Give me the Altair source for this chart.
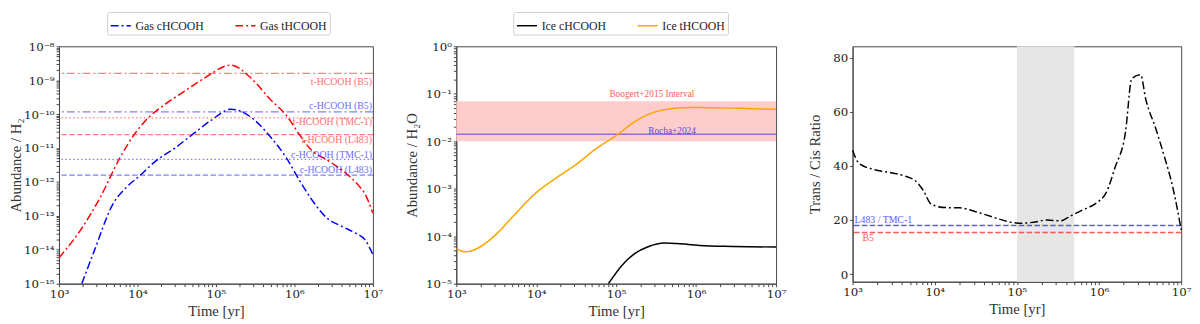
import altair as alt
import pandas as pd

# ---------------- Panel 1: gas-phase abundances ----------------
gas_t_time = [1.0e3, 1.88e3, 3.35e3, 5.96e3, 9.6e3, 1.28e4, 2.28e4, 4.06e4, 7.2e4, 1.55e5,
              2.75e5, 4.9e5, 7.9e5, 1.17e6, 1.55e6, 2.75e6, 4.47e6, 6.6e6, 7.9e6, 1.0e7]
gas_t_abund = [5.8e-15, 3.8e-14, 3.5e-13, 5.1e-12, 3.0e-11, 6.6e-11, 2.0e-10, 4.9e-10, 1.17e-9, 2.8e-9,
               1.2e-9, 2.75e-10, 9.1e-11, 2.4e-11, 1.0e-11, 4.1e-12, 1.86e-12, 7.8e-13, 4.5e-13, 1.2e-13]
gas_c_time = [1.95e3, 2.75e3, 4.9e3, 7.2e3, 1.06e4, 1.7e4, 3.0e4, 4.9e4, 8.7e4, 1.55e5,
              2.75e5, 4.9e5, 7.9e5, 1.17e6, 1.7e6, 2.5e6, 4.1e6, 6.0e6, 7.9e6, 1.0e7]
gas_c_abund = [1.0e-15, 8.1e-15, 2.3e-13, 6.9e-13, 1.5e-12, 4.1e-12, 1.0e-11, 2.4e-11, 6.6e-11, 1.4e-10,
               8.3e-11, 2.2e-11, 5.1e-12, 1.07e-12, 2.8e-13, 9.3e-14, 4.8e-14, 3.1e-14, 2.0e-14, 7.2e-15]

obs_labels = ["t-HCOOH (B5)", "c-HCOOH (B5)", "t-HCOOH (TMC-1)",
              "t-HCOOH (L483)", "c-HCOOH (TMC-1)", "c-HCOOH (L483)"]
obs_values = [1.6e-9, 1.17e-10, 7.8e-11, 2.5e-11, 4.6e-12, 1.6e-12]

# ---------------- Panel 2: ice abundances ----------------
ice_t_time = [1.0e3, 1.15e3, 1.34e3, 1.6e3, 2.0e3, 3.2e3, 5.2e3, 1.0e4, 1.8e4, 3.2e4, 5.5e4,
              1.07e5, 1.6e5, 2.2e5, 3.0e5, 4.5e5, 6.5e5, 1.0e6, 2.0e6, 5.0e6, 1.0e7]
ice_t_abund = [5.5e-5, 4.9e-5, 4.7e-5, 5.0e-5, 6.0e-5, 1.12e-4, 2.7e-4, 8.3e-4, 1.72e-3, 3.3e-3, 6.8e-3,
               1.43e-2, 2.4e-2, 3.3e-2, 4.1e-2, 4.8e-2, 5.1e-2, 5.15e-2, 5.05e-2, 4.85e-2, 4.7e-2]
ice_c_time = [8.0e4, 1.17e5, 1.7e5, 2.5e5, 4.0e5, 5.8e5, 1.1e6, 2.9e6, 1.0e7]
ice_c_abund = [1.0e-5, 2.4e-5, 4.3e-5, 6.0e-5, 7.2e-5, 7.0e-5, 6.4e-5, 6.1e-5, 5.9e-5]

boogert_low = [0.01]
boogert_high = [0.07]
rocha_value = [0.014]

# ---------------- Panel 3: trans / cis ratio ----------------
ratio_time = [1.0e3, 1.2e3, 1.8e3, 2.9e3, 4.5e3, 5.8e3, 7.2e3, 9.1e3, 1.35e4, 2.0e4, 3.2e4, 5.0e4,
              7.8e4, 1.1e5, 1.6e5, 2.3e5, 3.4e5, 4.5e5, 6.5e5, 9.4e5, 1.23e6, 1.56e6, 2.1e6,
              2.5e6, 3.2e6, 3.7e6, 4.9e6, 6.3e6, 7.9e6, 1.0e7]
ratio_value = [45.7, 40.9, 38.7, 37.5, 36.1, 34.5, 31.1, 25.8, 24.6, 24.5, 23.0, 21.2,
               19.4, 18.8, 19.2, 20.0, 19.7, 21.5, 23.9, 26.4, 30.3, 39.3, 52.6,
               72.2, 73.7, 64.7, 53.8, 43.0, 32.1, 16.4]
band_start = [1e5]
band_end = [5e5]
ratio_obs_labels = ["L483 / TMC-1", "B5"]
ratio_obs_values = [18.0, 15.4]

# ---------------- styling ----------------
SERIF = "Liberation Serif"
TICKFONT = "DejaVu Serif"
DASHDOT = [8, 3, 2, 3]
DASHED = [5.5, 2.5]
DOTTED = [1.5, 2.5]

major = [1e3, 1e4, 1e5, 1e6, 1e7]
x_ticks = major + [m * 10 ** e for e in range(3, 7) for m in range(2, 10)]
y1_ticks = [10.0 ** e for e in range(-15, -7)] + [m * 10.0 ** e for e in range(-15, -8) for m in range(2, 10)]
y2_ticks = [10.0 ** e for e in range(-5, 1)] + [m * 10.0 ** e for e in range(-5, 0) for m in range(2, 10)]

E = "round(log(datum.value)/LN10)"
A = "abs(round(log(datum.value)/LN10))"
SUP = ("abs(log(datum.value)/LN10 - {e}) < 0.001 ? '10' + ({e} < 0 ? '⁻' : '') + "
       "({a} >= 10 ? '¹' : '') + "
       "substring('⁰¹²³⁴⁵⁶⁷⁸⁹', {a} % 10, {a} % 10 + 1) : ''").format(e=E, a=A)

def log_axis(values, title_pad=None):
    kw = dict(values=values, labelExpr=SUP, tickSize=3, labelFlush=False, labelOverlap=False,
              labelFont=TICKFONT, labelFontSize=12)
    if title_pad is not None:
        kw["titlePadding"] = title_pad
    return alt.Axis(**kw)

xs = alt.Scale(type="log", domain=[1e3, 1e7], nice=False)
xax = log_axis(x_ticks, 4)
XT = "Time [yr]"

def X(field=None, datum=None):
    if datum is not None:
        return alt.XDatum(datum, type="quantitative", scale=xs, axis=xax, title=XT)
    return alt.X(field, type="quantitative", scale=xs, axis=xax, title=XT)

W1, W2, W3, H = 320, 326, 335, 242

# ===== panel 1 =====
y1s = alt.Scale(type="log", domain=[1e-15, 1e-8], nice=False)
y1ax = log_axis(y1_ticks, 0)
Y1T = "Abundance / H₂"

def Y1(field=None, datum=None):
    if datum is not None:
        return alt.YDatum(datum, type="quantitative", scale=y1s, axis=y1ax, title=Y1T)
    return alt.Y(field, type="quantitative", scale=y1s, axis=y1ax, title=Y1T)

gas_df = pd.concat([
    pd.DataFrame({"time": gas_c_time, "abund": gas_c_abund, "species": "Gas cHCOOH"}),
    pd.DataFrame({"time": gas_t_time, "abund": gas_t_abund, "species": "Gas tHCOOH"}),
])

legend_common = dict(title=None, orient="none", direction="horizontal", symbolType="stroke",
                     symbolStrokeWidth=1.5, symbolSize=420, labelFont=SERIF, labelFontSize=12,
                     labelColor="#222", fillColor="white", strokeColor="#d0d0d0", padding=3,
                     cornerRadius=2, columnPadding=28, labelLimit=300, legendY=-35)

gas_lines = alt.Chart(gas_df).mark_line(strokeWidth=1.5, strokeDash=DASHDOT, interpolate="monotone",
                                        clip=True).encode(
    x=X("time"), y=Y1("abund"),
    color=alt.Color("species:N",
                    scale=alt.Scale(domain=["Gas cHCOOH", "Gas tHCOOH"], range=["#0000ff", "#ff0000"]),
                    legend=alt.Legend(legendX=49, symbolDash=DASHDOT, **legend_common)),
)

obs_df = pd.DataFrame({"label": obs_labels, "value": obs_values})
obs_color = ["#ff0000", "#0000ff", "#ff0000", "#ff0000", "#0000ff", "#0000ff"]
obs_dash = [DASHDOT, DASHDOT, DOTTED, DASHED, DOTTED, DASHED]
obs_dy = [9, -6, 4, 6, -4, -5]

p1_layers = []
for i in range(len(obs_labels)):
    sub = obs_df.iloc[[i]]
    p1_layers.append(alt.Chart(sub).mark_rule(color=obs_color[i], strokeDash=obs_dash[i], strokeWidth=1.3,
                                              opacity=0.5).encode(y=Y1("value")))
p1_layers.append(gas_lines)
for i in range(len(obs_labels)):
    sub = obs_df.iloc[[i]]
    p1_layers.append(alt.Chart(sub).mark_text(align="right", baseline="middle", dx=-1, dy=obs_dy[i],
                                              font=SERIF, fontSize=10, color=obs_color[i],
                                              opacity=0.6).encode(
        x=X(datum=1e7), y=Y1("value"), text="label:N"))

panel1 = alt.layer(*p1_layers).properties(width=W1, height=H)

# ===== panel 2 =====
y2s = alt.Scale(type="log", domain=[1e-5, 1], nice=False)
y2ax = log_axis(y2_ticks, 6)
Y2T = "Abundance / H₂O"

def Y2(field=None, datum=None):
    if datum is not None:
        return alt.YDatum(datum, type="quantitative", scale=y2s, axis=y2ax, title=Y2T)
    return alt.Y(field, type="quantitative", scale=y2s, axis=y2ax, title=Y2T)

ice_df = pd.concat([
    pd.DataFrame({"time": ice_c_time, "abund": ice_c_abund, "species": "Ice cHCOOH"}),
    pd.DataFrame({"time": ice_t_time, "abund": ice_t_abund, "species": "Ice tHCOOH"}),
])
ref_df = pd.DataFrame({"low": boogert_low, "high": boogert_high, "rocha": rocha_value})

band = alt.Chart(ref_df).mark_rect(color="#ffcccc").encode(
    y=Y2("low"), y2="high")
rocha = alt.Chart(ref_df).mark_rule(color="#8a70e0", strokeWidth=1.5).encode(y=Y2("rocha"))
ice_lines = alt.Chart(ice_df).mark_line(strokeWidth=1.5, interpolate="monotone", clip=True).encode(
    x=X("time"), y=Y2("abund"),
    color=alt.Color("species:N",
                    scale=alt.Scale(domain=["Ice cHCOOH", "Ice tHCOOH"], range=["#000000", "#ffa500"]),
                    legend=alt.Legend(legendX=58, **legend_common)),
)
boog_txt = alt.Chart(ref_df).mark_text(align="center", baseline="alphabetic", dy=-4, font=SERIF,
                                       fontSize=9.5, color="#ff3030", opacity=0.8).encode(
    x=X(datum=2.8e5), y=Y2("high"), text=alt.value("Boogert+2015 Interval"))
rocha_txt = alt.Chart(ref_df).mark_text(align="center", baseline="alphabetic", dy=0, font=SERIF,
                                        fontSize=9.5, color="#4040e0", opacity=0.9).encode(
    x=X(datum=5.0e5), y=Y2("rocha"), text=alt.value("Rocha+2024"))

panel2 = alt.layer(band, rocha, ice_lines, boog_txt, rocha_txt).properties(width=W2, height=H)

# ===== panel 3 =====
y3s = alt.Scale(domain=[-2.8, 84.2], nice=False, zero=False)
y3ax = alt.Axis(values=[0, 20, 40, 60, 80], tickSize=3, titlePadding=10, labelFont=TICKFONT,
                labelFontSize=12)
Y3T = "Trans / Cis Ratio"

def Y3(field):
    return alt.Y(field, type="quantitative", scale=y3s, axis=y3ax, title=Y3T)

ratio_df = pd.DataFrame({"time": ratio_time, "ratio": ratio_value})
band_df = pd.DataFrame({"start": band_start, "end": band_end})
robs_df = pd.DataFrame({"label": ratio_obs_labels, "value": ratio_obs_values})

gray = alt.Chart(band_df).mark_rect(color="#e6e6e6").encode(x=X("start"), x2="end")
ratio_line = alt.Chart(ratio_df).mark_line(color="black", strokeWidth=1.5, strokeDash=DASHDOT,
                                           interpolate="monotone").encode(x=X("time"), y=Y3("ratio"))
robs_color = ["#3030ff", "#ff3030"]
p3_layers = [gray]
for i in range(2):
    sub = robs_df.iloc[[i]]
    p3_layers.append(alt.Chart(sub).mark_rule(color=robs_color[i], strokeDash=DASHED, strokeWidth=1.5,
                                              opacity=0.8).encode(y=Y3("value")))
p3_layers.append(ratio_line)
p3_layers.append(alt.Chart(robs_df.iloc[[0]]).mark_text(align="left", baseline="middle", dx=2, dy=-6,
                                                        font=SERIF, fontSize=10, color="#3030ff",
                                                        opacity=0.8).encode(
    x=X(datum=1e3), y=Y3("value"), text="label:N"))
p3_layers.append(alt.Chart(robs_df.iloc[[1]]).mark_text(align="left", baseline="middle", dx=10, dy=6,
                                                        font=SERIF, fontSize=10, color="#ff3030",
                                                        opacity=0.8).encode(
    x=X(datum=1e3), y=Y3("value"), text="label:N"))

panel3 = alt.layer(*p3_layers).properties(width=W3, height=H - 2)

chart = alt.hconcat(panel1, panel2, panel3, spacing=21).resolve_scale(
    color="independent"
).properties(padding=0).configure_view(
    stroke="#444", strokeWidth=1
).configure_axis(
    grid=False, labelFont=SERIF, labelFontSize=13, labelColor="#222", titleFont=SERIF,
    titleFontSize=15, titleFontWeight="normal", titleColor="#333", domainColor="#444",
    tickColor="#444", labelPadding=2
).configure_legend(symbolStrokeColor="black")

chart.save("out.html", embed_options={"renderer": "svg", "actions": False})
